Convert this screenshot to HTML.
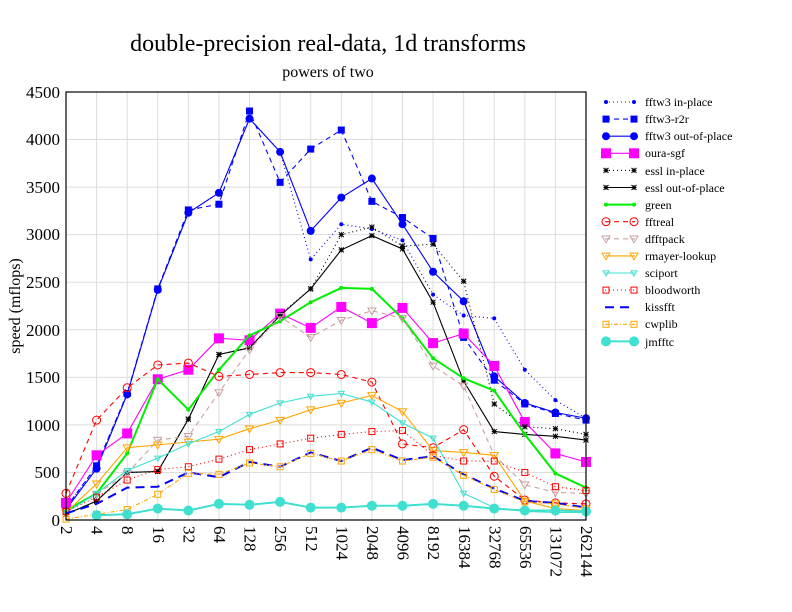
<!DOCTYPE html>
<html><head><meta charset="utf-8"><style>body{margin:0;background:#fff}svg{display:block}text{font-family:"Liberation Serif",serif}</style></head>
<body>
<svg width="792" height="612" xmlns="http://www.w3.org/2000/svg">
<g id="g"></g>
<text x="328" y="51" font-size="24" text-anchor="middle">double-precision real-data, 1d transforms</text>
<text x="328" y="77" font-size="16" text-anchor="middle">powers of two</text>
<text transform="translate(20,306) rotate(-90)" font-size="16" text-anchor="middle">speed (mflops)</text>
<g font-size="17" text-anchor="end">
<text x="60" y="526">0</text><text x="60" y="478">500</text><text x="60" y="431">1000</text><text x="60" y="383">1500</text><text x="60" y="336">2000</text><text x="60" y="288">2500</text><text x="60" y="240">3000</text><text x="60" y="193">3500</text><text x="60" y="145">4000</text><text x="60" y="98">4500</text>
</g>
<g font-size="12">
<text x="645" y="106">fftw3 in-place</text><text x="645" y="123">fftw3-r2r</text><text x="645" y="140">fftw3 out-of-place</text><text x="645" y="157">oura-sgf</text><text x="645" y="175">essl in-place</text><text x="645" y="192">essl out-of-place</text><text x="645" y="209">green</text><text x="645" y="226">fftreal</text><text x="645" y="243">dfftpack</text><text x="645" y="260">rmayer-lookup</text><text x="645" y="277">sciport</text><text x="645" y="294">bloodworth</text><text x="645" y="311">kissfft</text><text x="645" y="328">cwplib</text><text x="645" y="346">jmfftc</text>
</g>
<g font-size="17">
<text transform="translate(61,526) rotate(90)">2</text><text transform="translate(91.6,526) rotate(90)">4</text><text transform="translate(122.2,526) rotate(90)">8</text><text transform="translate(152.8,526) rotate(90)">16</text><text transform="translate(183.4,526) rotate(90)">32</text><text transform="translate(214,526) rotate(90)">64</text><text transform="translate(244.6,526) rotate(90)">128</text><text transform="translate(275.2,526) rotate(90)">256</text><text transform="translate(305.8,526) rotate(90)">512</text><text transform="translate(336.4,526) rotate(90)">1024</text><text transform="translate(367,526) rotate(90)">2048</text><text transform="translate(397.6,526) rotate(90)">4096</text><text transform="translate(428.2,526) rotate(90)">8192</text><text transform="translate(458.8,526) rotate(90)">16384</text><text transform="translate(489.4,526) rotate(90)">32768</text><text transform="translate(520,526) rotate(90)">65536</text><text transform="translate(550.6,526) rotate(90)">131072</text><text transform="translate(581.2,526) rotate(90)">262144</text>
</g>
</svg>
<script>
var NS="http://www.w3.org/2000/svg",g=document.getElementById('g');
function X(i){return 66+i*30.588}function Y(v){return 520-v*428/4500}
function el(t,a){var e=document.createElementNS(NS,t);for(var k in a)e.setAttribute(k,a[k]);g.appendChild(e);return e}
for(var i=0;i<18;i++)el('line',{x1:X(i),x2:X(i),y1:92,y2:520,stroke:'#ddd'});
for(var v=500;v<4500;v+=500)el('line',{x1:66,x2:586,y1:Y(v),y2:Y(v),stroke:'#ddd'});
var S=[
['#0000ff','1,3','dot',2,[130,560,1330,2430,3230,3440,4220,3870,2740,3110,3060,2940,2370,2150,2120,1580,1260,1070]],
['#0000ff','5,4','sq',3.5,[130,570,1330,2430,3260,3320,4300,3550,3900,4100,3350,3180,2960,1920,1470,1220,1120,1050]],
['#0000ff','','dot',4,[110,540,1320,2420,3230,3440,4220,3870,3040,3390,3590,3110,2610,2300,1510,1230,1130,1070]],
['#ff00ff','','sq',5,[180,680,910,1480,1580,1910,1890,2170,2020,2240,2070,2230,1860,1960,1620,1030,700,610]],
['#000000','1,3','star',2.5,[60,200,500,510,1060,1740,1810,2160,2430,3000,3080,2880,2900,2510,1220,980,960,900]],
['#000000','','star',2.5,[60,200,500,510,1060,1740,1810,2150,2430,2840,2990,2850,2290,1460,930,900,880,840]],
['#00ee00','','dot',2,[100,280,700,1480,1160,1580,1940,2090,2290,2440,2430,2120,1700,1490,1360,900,490,340]],
['#ff0000','5,4','circ',4,[280,1050,1390,1630,1650,1510,1530,1550,1550,1530,1450,800,760,950,460,210,180,170]],
['#c8a0a0','5,4','tri',4,[80,270,490,840,880,1340,1790,2140,1920,2100,2200,2120,1620,1410,680,370,290,280]],
['#ffa500','','tri',4,[80,380,760,790,820,850,960,1050,1160,1230,1310,1140,730,710,680,200,120,100]],
['#40e0d0','','tri',3,[80,280,520,650,800,930,1110,1230,1300,1330,1240,1020,860,280,130,90,80,80]],
['#ff0000','1,3','osq',3,[90,240,420,530,560,640,740,800,860,900,930,940,680,620,620,500,350,310]],
['#0000ff','9,6','none',0,[70,170,340,350,500,450,610,560,710,620,760,630,670,480,330,200,180,130]],
['#ffa500','4,2,1,2','osq',3,[10,60,110,270,490,480,600,560,700,620,740,620,660,470,320,190,170,120]],
['#40e0d0','','dot',5,[null,50,60,120,100,170,160,190,130,130,150,150,170,150,120,100,100,90]]];
function mk(t,x,y,c,r){
 if(t=='dot')el('circle',{cx:x,cy:y,r:r,fill:c});
 else if(t=='sq')el('rect',{x:x-r,y:y-r,width:2*r,height:2*r,fill:c});
 else if(t=='osq')el('rect',{x:x-r,y:y-r,width:2*r,height:2*r,fill:'none',stroke:c});
 else if(t=='circ')el('circle',{cx:x,cy:y,r:r,fill:'none',stroke:c});
 else if(t=='tri')el('path',{d:'M'+(x-r)+','+(y-r*0.7)+'L'+(x+r)+','+(y-r*0.7)+'L'+x+','+(y+r)+'Z',fill:'none',stroke:c});
 else if(t=='star')el('path',{d:'M'+(x-r)+','+y+'h'+2*r+'M'+x+','+(y-r)+'v'+2*r+'M'+(x-r)+','+(y-r)+'l'+2*r+','+2*r+'M'+(x+r)+','+(y-r)+'l-'+2*r+','+2*r,stroke:c});
}
S.forEach(function(s,k){
 var p='';s[4].forEach(function(v,i){if(v==null)return;p+=(p?'L':'M')+X(i)+','+Y(v)});
 var w=(k==6||k==14||k==12)?2:1.1;
 var a={d:p,fill:'none',stroke:s[0],'stroke-width':w};if(s[1])a['stroke-dasharray']=s[1];el('path',a);
 s[4].forEach(function(v,i){if(v!=null)mk(s[2],X(i),Y(v),s[0],s[3])});
 var ly=102+k*17.1;var b={d:'M605,'+ly+'H635',fill:'none',stroke:s[0],'stroke-width':w};if(s[1])b['stroke-dasharray']=s[1];el('path',b);
 if(s[2]!='none'){mk(s[2],606,ly,s[0],s[3]);mk(s[2],634,ly,s[0],s[3]);}
});
el('rect',{x:66,y:92,width:520,height:428,fill:'none',stroke:'#000','stroke-width':1.2});
</script>
</body></html>
